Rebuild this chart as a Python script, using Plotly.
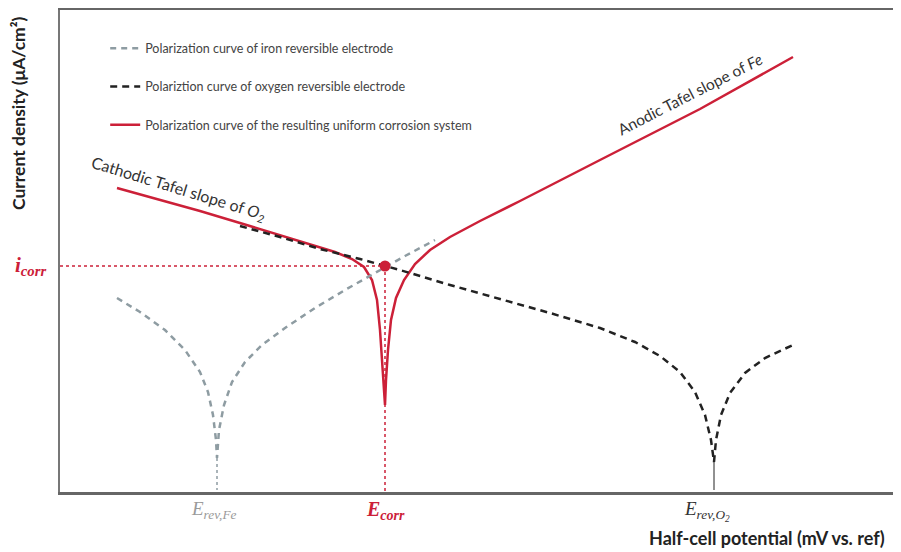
import plotly.graph_objects as go

# Arbitrary potential / log-current units
fe_x = [57, 80, 105, 125, 140, 148, 153, 156, 157, 159, 164, 172, 185, 202, 225, 255, 285, 315, 345, 375]
fe_y = [194, 180, 162, 142, 120, 100, 77, 52, 34, 62, 87, 110, 130, 147, 164, 184, 202, 219, 236, 252]
fe_tail_x = [157, 157]
fe_tail_y = [34, 2]

o2_x = [180, 220, 260, 300, 340, 390, 440, 490, 540, 575, 600, 620, 635, 645, 651, 654,
        656, 661, 670, 685, 705, 735]
o2_y = [266, 255, 243, 233, 222, 207, 193, 179, 164, 150, 136, 120, 100, 77, 52, 30,
        52, 77, 99, 119, 134, 148]
o2_tail_x = [654, 654]
o2_tail_y = [30, 2]

sys_x = [57, 100, 140, 180, 220, 250, 275, 292, 304, 312, 317, 320, 322, 324, 325,
         326, 328, 331, 336, 344, 355, 370, 390, 420, 460, 540, 640, 733]
sys_y = [304, 292, 281, 269, 257, 248, 240, 233, 225, 212, 192, 162, 132, 102, 87,
         112, 142, 172, 194, 212, 228, 242, 255, 271, 291, 332, 383, 435]

e_corr = 325
i_corr = 226

X_MAX = 837
Y_MAX = 482

RED = "#cc2038"
GRAY = "#8e9ca2"
BLACK = "#222222"

fig = go.Figure()

fig.add_trace(go.Scatter(x=sys_x, y=sys_y, mode="lines", line=dict(color=RED, width=2.5),
                         name="Polarization curve of the resulting uniform corrosion system",
                         legendgroup="c", legendrank=3))
fig.add_trace(go.Scatter(x=fe_x, y=fe_y, mode="lines",
                         line=dict(color=GRAY, width=2.5, dash="6px,5px"),
                         name="Polarization curve of iron reversible electrode",
                         legendgroup="a", legendrank=1))
fig.add_trace(go.Scatter(x=fe_tail_x, y=fe_tail_y, mode="lines",
                         line=dict(color=GRAY, width=1.5, dash="dot"), showlegend=False))
fig.add_trace(go.Scatter(x=o2_x, y=o2_y, mode="lines",
                         line=dict(color=BLACK, width=2.5, dash="7px,5px"),
                         name="Polariztion curve of oxygen reversible electrode",
                         legendgroup="b", legendrank=2))
fig.add_trace(go.Scatter(x=o2_tail_x, y=o2_tail_y, mode="lines",
                         line=dict(color=BLACK, width=1), showlegend=False))
# i_corr and E_corr guide lines
fig.add_trace(go.Scatter(x=[0, e_corr], y=[i_corr, i_corr], mode="lines",
                         line=dict(color=RED, width=1.5, dash="dot"), showlegend=False))
fig.add_trace(go.Scatter(x=[e_corr, e_corr], y=[i_corr, 0], mode="lines",
                         line=dict(color=RED, width=1.5, dash="dot"), showlegend=False))
fig.add_trace(go.Scatter(x=[e_corr], y=[i_corr], mode="markers",
                         marker=dict(color=RED, size=11), showlegend=False))

serif = "Liberation Serif"


def px(v):
    return v / X_MAX


def py(v):
    return v / Y_MAX


annotations = [
    dict(x=118, y=304, text="Cathodic Tafel slope of <i>O<sub>2</sub></i>", textangle=17,
         showarrow=False, font=dict(family="Lato", size=16, color="#333333")),
    dict(x=630, y=398, text="Anodic Tafel slope of <i>Fe</i>", textangle=-27,
         showarrow=False, font=dict(family="Lato", size=15.5, color="#333333")),
    dict(xref="paper", yref="paper", x=px(-12), y=py(i_corr), xanchor="right", yanchor="middle",
         text="<b><i>i<sub>corr</sub></i></b>", showarrow=False,
         font=dict(family=serif, size=21, color=RED)),
    dict(xref="paper", yref="paper", x=px(e_corr), y=py(-18), xanchor="center", yanchor="middle",
         text="<b><i>E<sub>corr</sub></i></b>", showarrow=False,
         font=dict(family=serif, size=20, color=RED)),
    dict(xref="paper", yref="paper", x=px(129), y=py(-18), xanchor="left", yanchor="middle",
         text="<i>E<sub>rev,Fe</sub></i>", showarrow=False,
         font=dict(family=serif, size=19, color="#9a9a9a")),
    dict(xref="paper", yref="paper", x=px(622), y=py(-19), xanchor="left", yanchor="middle",
         text="<i>E<sub>rev,O<sub>2</sub></sub></i>", showarrow=False,
         font=dict(family=serif, size=19, color="#333333")),
    dict(xref="paper", yref="paper", x=px(-42), y=py(379), xanchor="center", yanchor="middle",
         text="<b>Current density (μA/cm²)</b>",
         textangle=-90, showarrow=False, font=dict(family="Lato", size=17.5, color="#222222")),
    dict(xref="paper", yref="paper", x=px(587), y=py(-46), xanchor="left", yanchor="middle",
         text="<b>Half-cell potential (mV vs. ref)</b>", showarrow=False,
         font=dict(family="Lato", size=18, color="#222222")),
]

# The page body has an 8px margin, so the figure is shrunk and shifted to compensate
fig.update_layout(
    width=893, height=544,
    margin=dict(l=52, r=4, t=2, b=60, autoexpand=False),
    paper_bgcolor="white", plot_bgcolor="white",
    annotations=annotations,
    showlegend=True,
    legend=dict(x=0.054, y=0.951, xanchor="left", yanchor="top",
                bgcolor="rgba(0,0,0,0)", tracegroupgap=19,
                font=dict(family="Lato", size=12.5, color="#444444")),
    xaxis=dict(range=[0, X_MAX], showgrid=False, zeroline=False, showticklabels=False,
               ticks="", showline=True, linecolor="#666666", linewidth=2.5, mirror=True),
    yaxis=dict(range=[0, Y_MAX], showgrid=False, zeroline=False, showticklabels=False,
               ticks="", showline=True, linecolor="#777777", linewidth=2, mirror=True),
)

fig.write_html("out.html")
